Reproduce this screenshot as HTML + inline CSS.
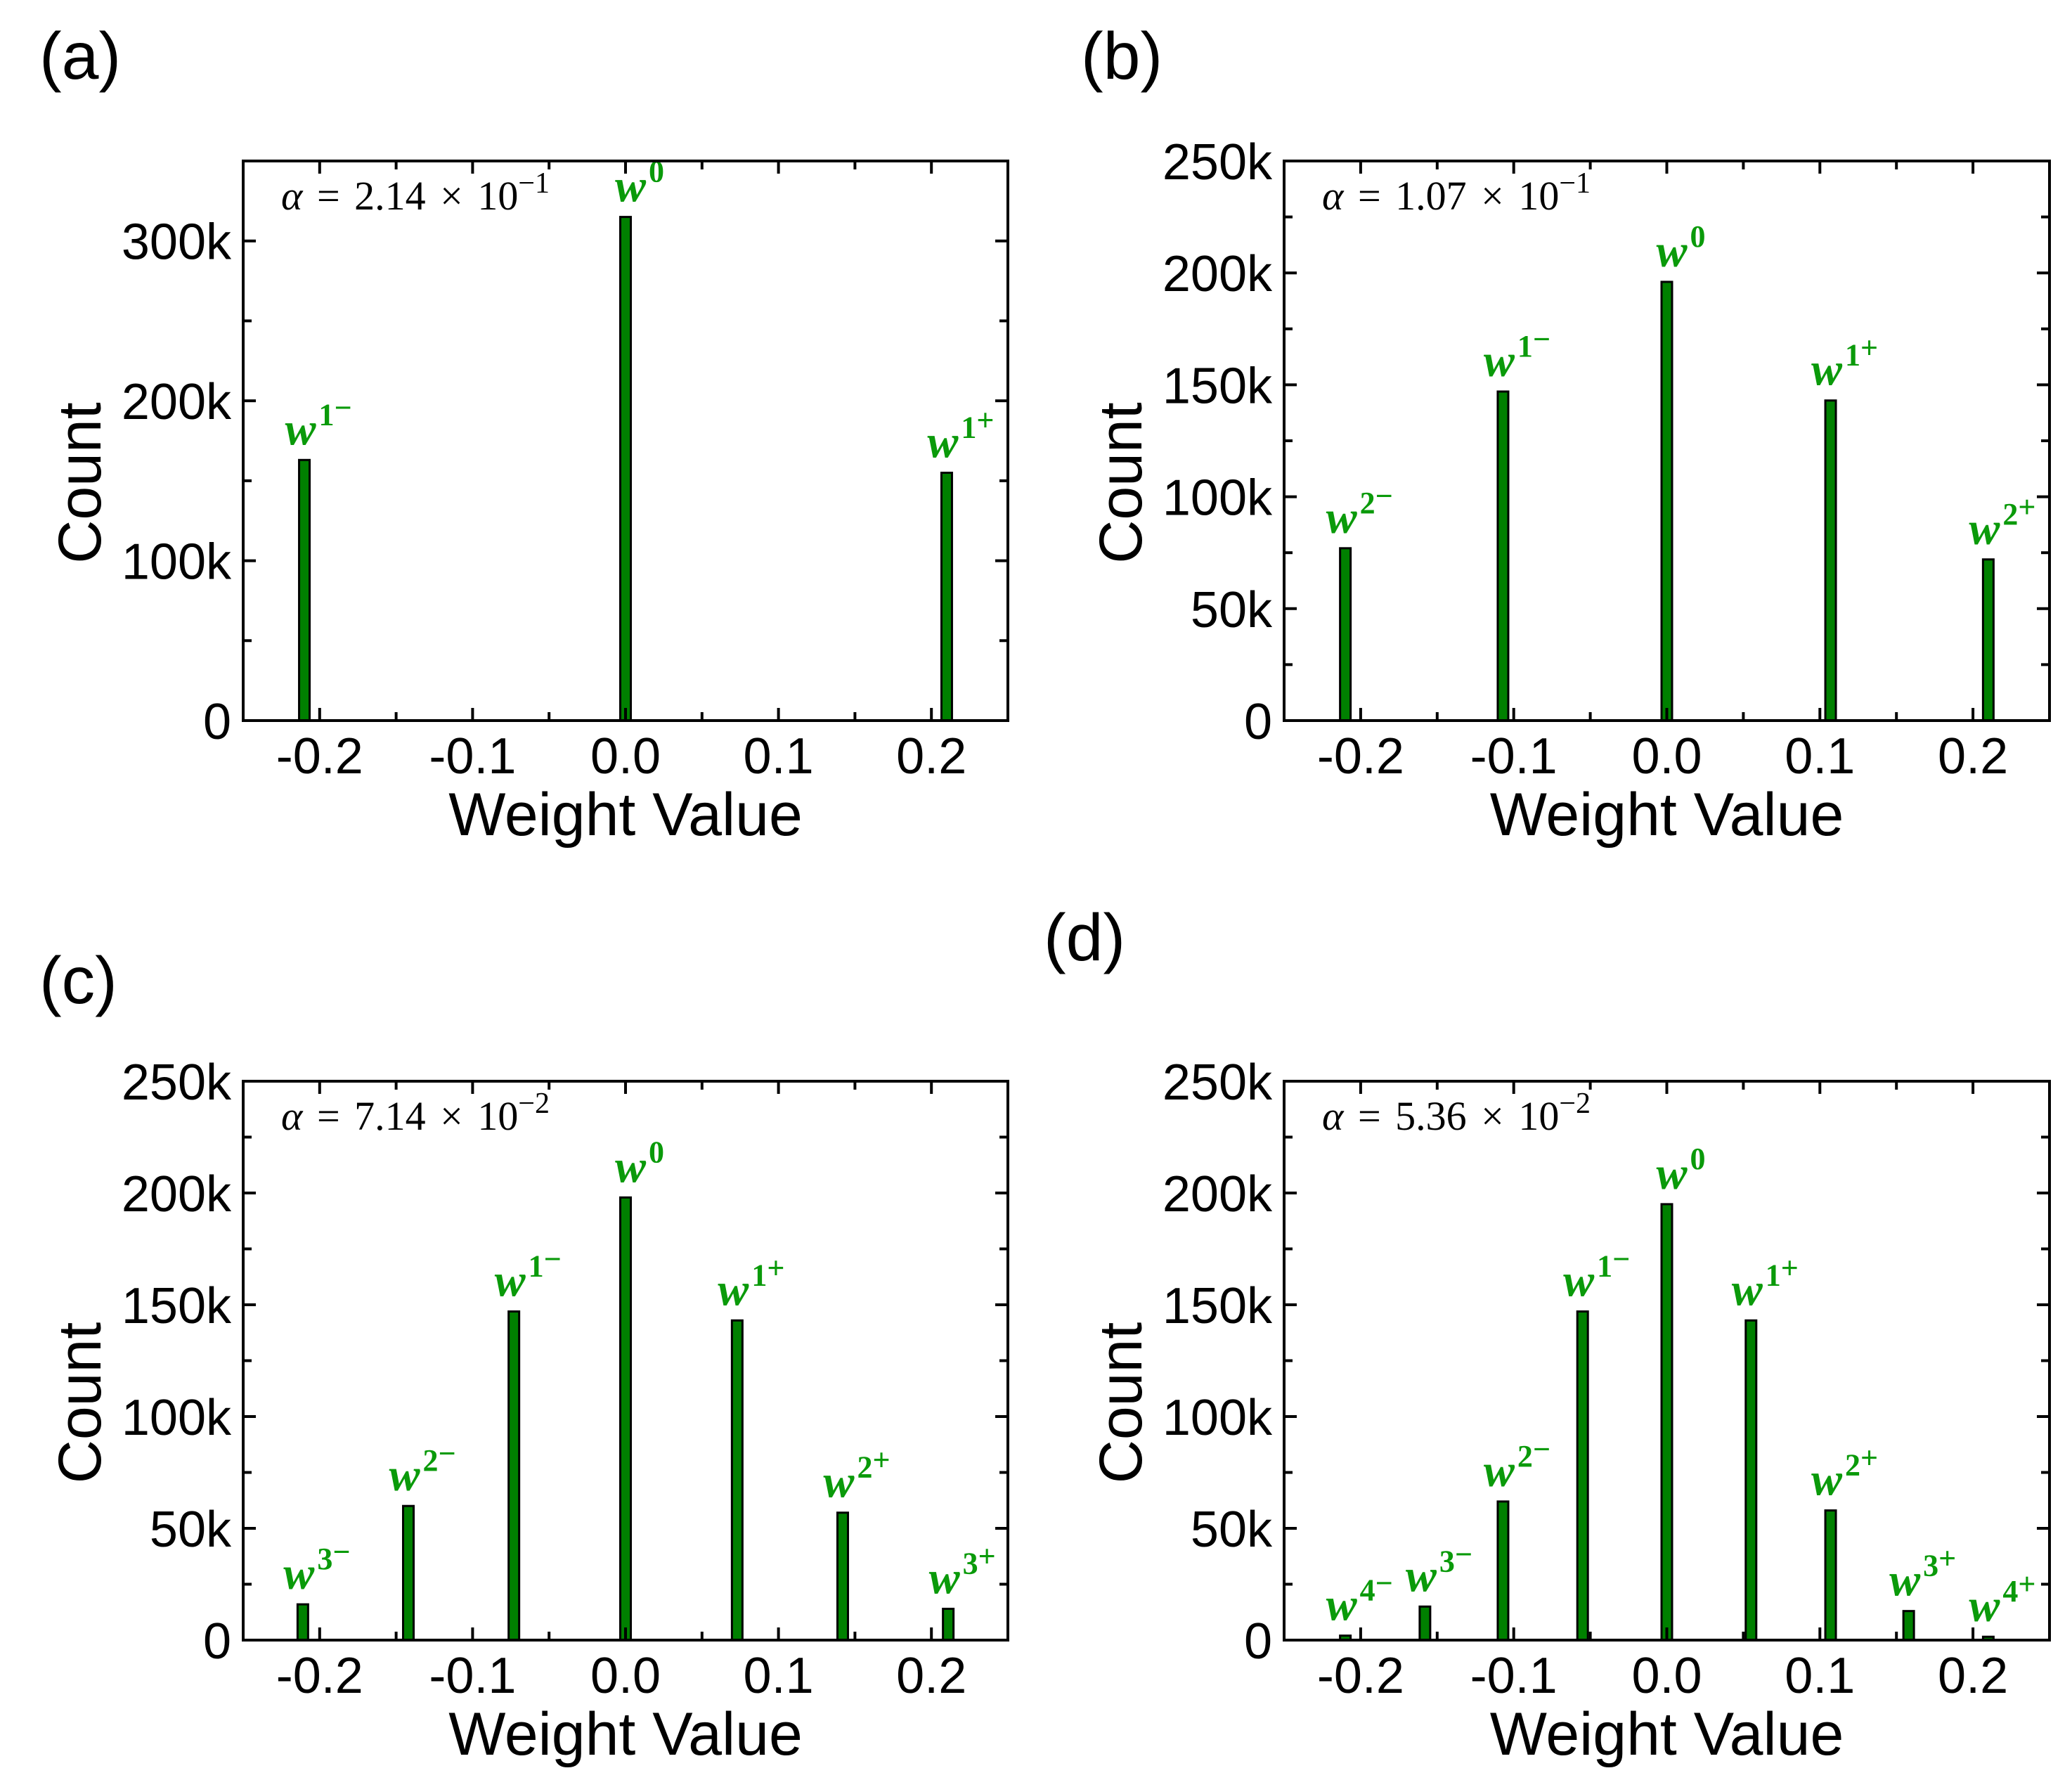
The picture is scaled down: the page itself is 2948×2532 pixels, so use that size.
<!DOCTYPE html>
<html><head><meta charset="utf-8"><style>
html,body{margin:0;padding:0;background:#fff;}
svg{display:block;}
.tick{font-family:"Liberation Sans",sans-serif;font-size:72px;fill:#000;}
.title{font-family:"Liberation Sans",sans-serif;font-size:86px;fill:#000;}
.plab{font-family:"Liberation Sans",sans-serif;font-size:95px;fill:#000;}
.alpha{font-family:"Liberation Serif",serif;font-size:58px;fill:#000;word-spacing:6px;}
.wl{font-family:"Liberation Serif",serif;font-size:66px;font-weight:bold;font-style:italic;fill:#0a9a0a;}
.ws{font-size:44px;font-style:normal;}
</style></head><body>
<svg id="fig" width="2948" height="2532" viewBox="0 0 2948 2532" xmlns="http://www.w3.org/2000/svg"></svg>
<script>
// panel (a)
const aX = [-0.21, 0, 0.21];
const aY = [163000, 315000, 155000];
const aLab = ["1−", "0", "1+"];
// panel (b)
const bX = [-0.21, -0.107, 0, 0.107, 0.21];
const bY = [77000, 147000, 196000, 143000, 72000];
const bLab = ["2−", "1−", "0", "1+", "2+"];
// panel (c)
const cX = [-0.211, -0.142, -0.073, 0, 0.073, 0.142, 0.211];
const cY = [16000, 60000, 147000, 198000, 143000, 57000, 14000];
const cLab = ["3−", "2−", "1−", "0", "1+", "2+", "3+"];
// panel (d)
const dX = [-0.21, -0.158, -0.107, -0.055, 0, 0.055, 0.107, 0.158, 0.21];
const dY = [2000, 15000, 62000, 147000, 195000, 143000, 58000, 13000, 1500];
const dLab = ["4−", "3−", "2−", "1−", "0", "1+", "2+", "3+", "4+"];
const xTicks = [-0.2, -0.1, 0.0, 0.1, 0.2];
const xTickLabels = ["-0.2", "-0.1", "0.0", "0.1", "0.2"];
const yTicksA = [0, 100000, 200000, 300000];
const yTickLabelsA = ["0", "100k", "200k", "300k"];
const yTicksB = [0, 50000, 100000, 150000, 200000, 250000];
const yTickLabelsB = ["0", "50k", "100k", "150k", "200k", "250k"];
const alphas = ["2.14", "1.07", "7.14", "5.36"];
const alphaExp = ["−1", "−1", "−2", "−2"];

const NS = "http://www.w3.org/2000/svg";
const svg = document.getElementById("fig");
function mk(tag, attrs, parent) {
  const e = document.createElementNS(NS, tag);
  for (const k in attrs) e.setAttribute(k, attrs[k]);
  (parent || svg).appendChild(e);
  return e;
}

function panel(id, L, R, T, B, ymax, yMinorStep, xs, ys, labs, yTicks, yTickLabels, ai, plabel, plx, ply) {
  const g = mk("g", {});
  
  
  const sx = v => L + (v + 0.25) / 0.5 * (R - L);
  const sy = v => B - v / ymax * (B - T);
  const pl = mk("text", {x: plx, y: ply, class: "plab"}, g);
  pl.textContent = plabel;
  
  
  for (let i = 0; i < xs.length; i++) {
    const x = sx(xs[i]), y = sy(ys[i]);
    const r = mk("rect", {x: x - 7.5, y: y, width: 15, height: B - y, fill: "#008000", stroke: "#000", "stroke-width": 3}, g);
    
    
    const t = mk("text", {x: x + 20, y: y - 22, class: "wl", "text-anchor": "middle"}, g);
    
    
    const w = mk("tspan", {}, t); w.textContent = "w";
    const s = mk("tspan", {dy: -28, dx: 4, class: "ws"}, t); s.textContent = labs[i].slice(0, 1);
    const s2 = mk("tspan", {dy: -10, class: "ws", "font-size": "36px"}, t); s2.textContent = labs[i].slice(1);
  }
  for (let v = -0.25; v <= 0.2501; v += 0.05) {
    const major = Math.abs(Math.round(v * 100) % 10) === 0;
    const len = major ? 18 : 12;
    const x = sx(v);
    if (x <= L + 1 || x >= R - 1) continue;
    mk("line", {x1: x, x2: x, y1: B, y2: B - len, stroke: "#000", "stroke-width": 4}, g);
    mk("line", {x1: x, x2: x, y1: T, y2: T + len, stroke: "#000", "stroke-width": 4}, g);
  }
  for (let v = yMinorStep; v < ymax; v += yMinorStep) {
    const major = yTicks.indexOf(v) >= 0;
    const len = major ? 18 : 12;
    const y = sy(v);
    mk("line", {x1: L, x2: L + len, y1: y, y2: y, stroke: "#000", "stroke-width": 4}, g);
    mk("line", {x1: R, x2: R - len, y1: y, y2: y, stroke: "#000", "stroke-width": 4}, g);
  }
  const f = mk("rect", {x: L, y: T, width: R - L, height: B - T, fill: "none", stroke: "#000", "stroke-width": 4}, g);
  
  
  for (let i = 0; i < xTicks.length; i++) {
    const t = mk("text", {x: sx(xTicks[i]), y: B + 75, class: "tick", "text-anchor": "middle"}, g);
    t.textContent = xTickLabels[i];
    
    
  }
  for (let i = 0; i < yTicks.length; i++) {
    const t = mk("text", {x: L - 17, y: sy(yTicks[i]) + 26, class: "tick", "text-anchor": "end"}, g);
    t.textContent = yTickLabels[i];
    
    
  }
  const xt = mk("text", {x: (L + R) / 2, y: B + 163, class: "title", "text-anchor": "middle"}, g);
  xt.textContent = "Weight Value";
  
  
  const cy = (T + B) / 2 + 60;
  const yt = mk("text", {x: L - 203, y: cy, class: "title", "text-anchor": "middle", transform: "rotate(-90 " + (L - 203) + " " + cy + ")"}, g);
  yt.textContent = "Count";
  
  
  const at = mk("text", {x: L + 54, y: T + 69, class: "alpha"}, g);
  
  
  const a1 = mk("tspan", {"font-style": "italic"}, at); a1.textContent = "α";
  const a2 = mk("tspan", {}, at); a2.textContent = " = " + alphas[ai] + " × 10";
  const a3 = mk("tspan", {dy: -24, "font-size": "42px"}, at); a3.textContent = alphaExp[ai];
}

panel("a", 346, 1434, 229, 1025, 350000, 50000, aX, aY, aLab, yTicksA, yTickLabelsA, 0, "(a)", 56, 112);
panel("b", 1827, 2916, 229, 1025, 250000, 25000, bX, bY, bLab, yTicksB, yTickLabelsB, 1, "(b)", 1538, 112);
panel("c", 346, 1434, 1538, 2333, 250000, 25000, cX, cY, cLab, yTicksB, yTickLabelsB, 2, "(c)", 56, 1427);
panel("d", 1827, 2916, 1538, 2333, 250000, 25000, dX, dY, dLab, yTicksB, yTickLabelsB, 3, "(d)", 1485, 1366);
</script>
</body></html>
